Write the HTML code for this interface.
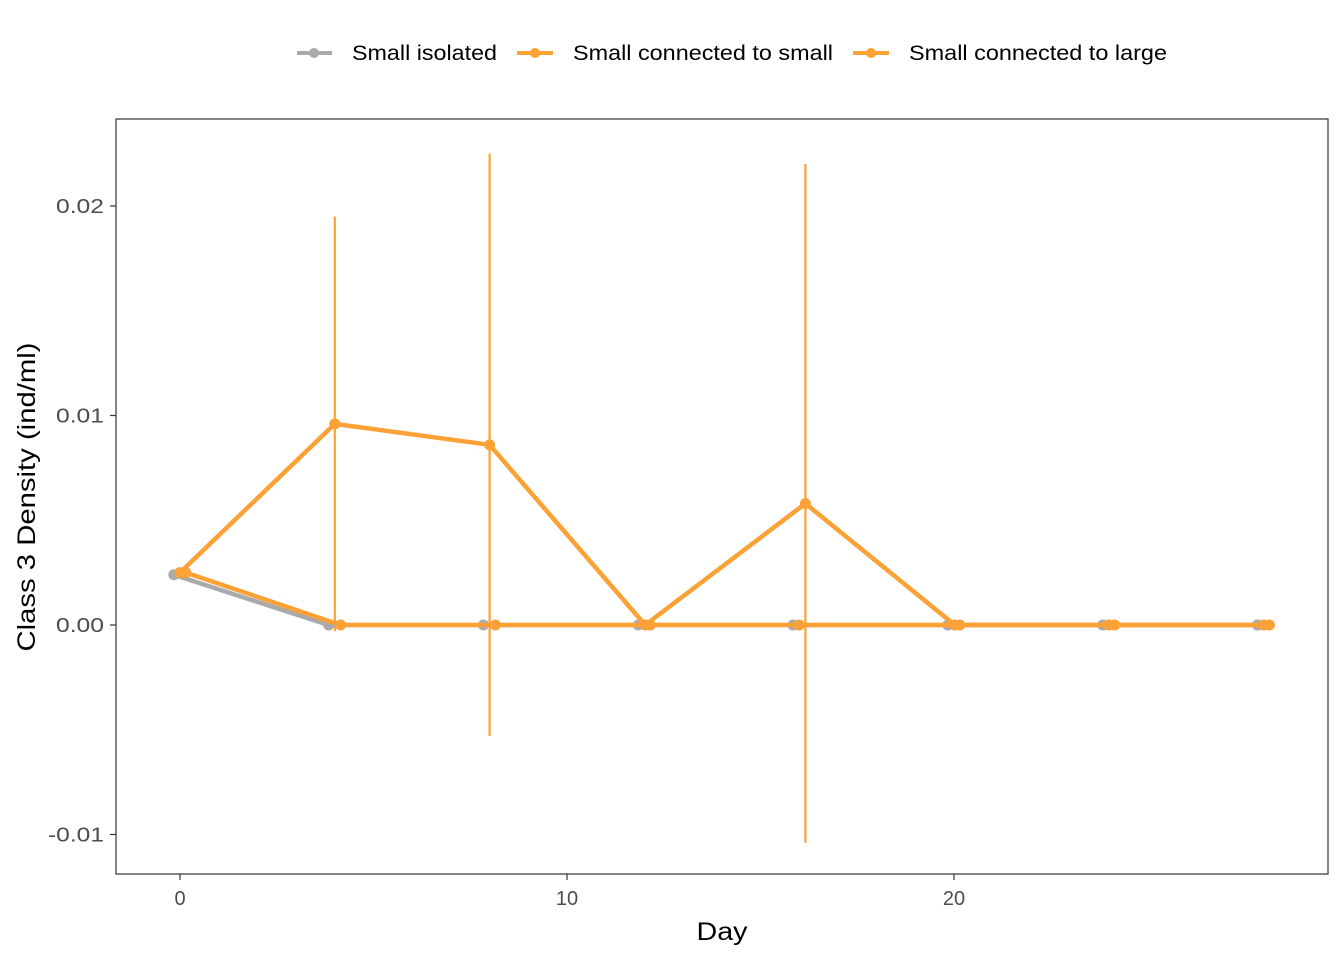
<!DOCTYPE html>
<html><head><meta charset="utf-8"><style>
body{margin:0;background:#fff;font-family:"Liberation Sans",Arial,sans-serif}
</style></head><body>
<svg id="chart" width="1344" height="960" xmlns="http://www.w3.org/2000/svg">
<rect width="1344" height="960" fill="#fff"/>
<g id="legend" font-size="21" fill="#000">
 <g><line x1="297" y1="53" x2="332" y2="53" stroke="#aaaaaa" stroke-width="4"/><circle cx="314" cy="53" r="5" fill="#aaaaaa"/><text x="352" y="60" textLength="145" lengthAdjust="spacingAndGlyphs">Small isolated</text></g>
 <g><line x1="517" y1="53" x2="553" y2="53" stroke="#fca135" stroke-width="4"/><circle cx="535" cy="53" r="5" fill="#fca135"/><text x="573" y="60" textLength="260" lengthAdjust="spacingAndGlyphs">Small connected to small</text></g>
 <g><line x1="853" y1="53" x2="889" y2="53" stroke="#fca135" stroke-width="4"/><circle cx="871" cy="53" r="5" fill="#fca135"/><text x="909" y="60" textLength="258" lengthAdjust="spacingAndGlyphs">Small connected to large</text></g>
</g>
<g id="axes"></g>
<g id="plot"></g>
<rect x="116" y="119" width="1212" height="755" fill="none" stroke="#333" stroke-width="1.2"/>
<text x="722" y="940" font-size="25" text-anchor="middle" textLength="51" lengthAdjust="spacingAndGlyphs">Day</text>
<text transform="translate(35,497) rotate(-90)" font-size="25" text-anchor="middle" textLength="309" lengthAdjust="spacingAndGlyphs">Class 3 Density (ind/ml)</text>
</svg>
<script>
const days=[0,4,8,12,16,20,24,28];
const isolated=[0.0024,0,0,0,0,0,0,0];
const connSmall=[0.0025,0.0096,0.0086,0,0.0058,0,0,0];
const connSmallErr=[0,0.0099,0.0139,0,0.0162,0,0,0];
const connLarge=[0.0025,0,0,0,0,0,0,0];
const dodgeIsolated=[-0.16,-0.16,-0.16,-0.16,-0.16,-0.16,-0.16,-0.16];
const dodgeSmall=[0,0,0,0.02,0.16,0.02,0,0];
const dodgeLarge=[0.15,0.15,0.15,0.15,0,0.15,0.15,0.15];
const xTicks=[0,10,20];
const yTicks=[-0.01,0,0.01,0.02];
const yTickLabels=["-0.01","0.00","0.01","0.02"];
const X=d=>180+d*38.7;
const Y=v=>625-v*20950;
const NS="http://www.w3.org/2000/svg";
const axes=document.getElementById('axes'),plot=document.getElementById('plot');
function mk(tag,attrs,parent){const e=document.createElementNS(NS,tag);for(const k in attrs)e.setAttribute(k,attrs[k]);parent.appendChild(e);return e;}
xTicks.forEach(t=>{
 const l=mk('line',{x1:X(t),x2:X(t),y1:874,y2:880,stroke:'#333','stroke-width':1.2},axes);
 
 
 const tx=mk('text',{x:X(t),y:905,'font-size':20,'text-anchor':'middle',fill:'#4d4d4d'},axes);tx.textContent=t;
 
 
});
yTicks.forEach((t,i)=>{
 const l=mk('line',{x1:110,x2:116,y1:Y(t),y2:Y(t),stroke:'#333','stroke-width':1.2},axes);
 
 
 const tx=mk('text',{x:104,y:Y(t)+7,'font-size':20,'text-anchor':'end',fill:'#4d4d4d',textLength:(t<0?56:48),lengthAdjust:'spacingAndGlyphs'},axes);tx.textContent=yTickLabels[i];
 
 
});
days.forEach((d,i)=>{if(connSmallErr[i]>0){
 const e=mk('line',{x1:X(d+dodgeSmall[i]),x2:X(d+dodgeSmall[i]),y1:Y(connSmall[i]+connSmallErr[i]),y2:Y(connSmall[i]-connSmallErr[i]),stroke:'#fca135','stroke-width':2.2},plot);
 
 
}});
function series(vals,off,color,name){
 const pts=days.map((d,i)=>X(d+off[i])+','+Y(vals[i])).join(' ');
 const pl=mk('polyline',{points:pts,fill:'none',stroke:color,'stroke-width':4.5,'stroke-linejoin':'round'},plot);
 
 
 days.forEach((d,i)=>{const c=mk('circle',{cx:X(d+off[i]),cy:Y(vals[i]),r:5.5,fill:color},plot);
  
  });
}
series(isolated,dodgeIsolated,'#aaaaaa','small-isolated');
series(connLarge,dodgeLarge,'#fca135','connected-large');
series(connSmall,dodgeSmall,'#fca135','connected-small');
</script>
</body></html>
